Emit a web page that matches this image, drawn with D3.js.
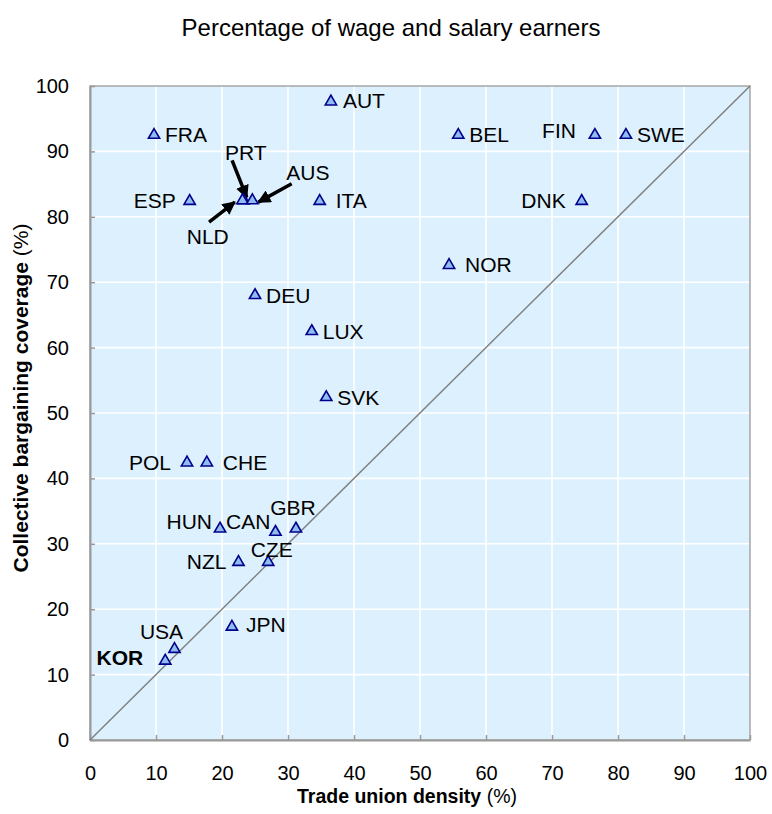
<!DOCTYPE html>
<html><head><meta charset="utf-8">
<script src="https://cdn.jsdelivr.net/npm/d3@7"></script>
<style>body{margin:0;background:#fff;font-family:"Liberation Sans",Arial,sans-serif;}</style>
</head><body>
<svg id="chart" width="772" height="814" font-family="Liberation Sans, Arial, sans-serif"></svg>
<script>
const countries = ["FRA","AUT","BEL","FIN","SWE","ESP","PRT","NLD","AUS","ITA","DNK","NOR","DEU","LUX","SVK","POL","CHE","HUN","CAN","GBR","NZL","CZE","JPN","USA","KOR"];
const unionDensity = [9.7,36.5,55.8,76.5,81.2,15.1,23.3,23.1,24.6,34.8,74.5,54.4,25.0,33.6,35.8,14.7,17.7,19.7,28.1,31.2,22.5,27.0,21.5,12.8,11.4];
const bargainingCoverage = [92.5,97.6,92.5,92.5,92.5,82.4,82.5,82.5,82.5,82.4,82.4,72.6,68.0,62.5,52.4,42.4,42.4,32.3,31.8,32.3,27.2,27.2,17.3,13.9,12.1];
const xTicks = [0,10,20,30,40,50,60,70,80,90,100];
const yTicks = [0,10,20,30,40,50,60,70,80,90,100];

// label placement (layout only): dx, dy in px, anchor
const labelLayout = {
  FRA:[11,0,"start"], AUT:[12,-1,"start"], BEL:[11,0,"start"], FIN:[-19,-4,"end"], SWE:[11,0,"start"],
  ESP:[-14,0,"end"], ITA:[16,0,"start"], DNK:[-16,0,"end"], NOR:[16,-1,"start"], DEU:[11,0,"start"],
  LUX:[11,0,"start"], SVK:[11,0,"start"], POL:[-16,0,"end"], CHE:[16,0,"start"], HUN:[-8,-7,"end"],
  CAN:[-5,-10,"end"], GBR:[-3,-21,"middle"], NZL:[-12,0,"end"], CZE:[3.5,-12,"middle"], JPN:[14,-2.5,"start"],
  USA:[-13,-17,"middle"], KOR:[-22,-3,"end"]
};
const arrowLabels = {
  PRT:{lx:2,ly:-48,x1:-11.7,y1:-40,x2:3,y2:-3},
  AUS:{lx:55.5,ly:-28.3,x1:39.3,y1:-16.7,x2:6,y2:1.7},
  NLD:{lx:-34.7,ly:36,x1:-33.4,y1:21.7,x2:-7.7,y2:1.7}
};

const svg = d3.select("#chart");
const m = {left:90, top:86, right:22, bottom:74};
const W = 772 - m.left - m.right, H = 814 - m.top - m.bottom;
const x = d3.scaleLinear().domain([0,100]).range([m.left, m.left+W]);
const y = d3.scaleLinear().domain([0,100]).range([m.top+H, m.top]);

svg.append("rect").attr("x",x(0)).attr("y",y(100)).attr("width",x(100)-x(0)).attr("height",y(0)-y(100))
  .attr("fill","#ddf0fe");
// grid
svg.append("g").selectAll("line").data(xTicks.slice(1,-1)).join("line")
  .attr("x1",d=>x(d)).attr("x2",d=>x(d)).attr("y1",y(0)).attr("y2",y(100)).attr("stroke","#fff").attr("stroke-width",1.6);
svg.append("g").selectAll("line").data(yTicks.slice(1,-1)).join("line")
  .attr("y1",d=>y(d)).attr("y2",d=>y(d)).attr("x1",x(0)).attr("x2",x(100)).attr("stroke","#fff").attr("stroke-width",1.6);
// border
svg.append("rect").attr("x",x(0)).attr("y",y(100)).attr("width",x(100)-x(0)).attr("height",y(0)-y(100))
  .attr("fill","none").attr("stroke","#a6a6a6").attr("stroke-width",1.5);

// axes
const xAxis = svg.append("g").attr("transform",`translate(0,${y(0)})`)
  .call(d3.axisBottom(x).tickValues(xTicks).tickSizeInner(-5).tickSizeOuter(0).tickPadding(26));
const yAxis = svg.append("g").attr("transform",`translate(${x(0)},0)`)
  .call(d3.axisLeft(y).tickValues(yTicks).tickSizeInner(-5).tickSizeOuter(0).tickPadding(21));
[xAxis,yAxis].forEach(a=>{
  a.select(".domain").attr("stroke","#999").attr("stroke-width",2);
  a.selectAll(".tick line").attr("stroke","#999").attr("stroke-width",1.5);
  a.selectAll("text").attr("font-size",20).attr("fill","#000").attr("font-family","Liberation Sans, Arial, sans-serif");
});

// diagonal
svg.append("line").attr("x1",x(0)).attr("y1",y(0)).attr("x2",x(100)).attr("y2",y(100))
  .attr("stroke","#808080").attr("stroke-width",1.5);

const data = countries.map((c,i)=>({c, xv:unionDensity[i], yv:bargainingCoverage[i]}));

// arrows
svg.append("defs").append("marker").attr("id","ah").attr("viewBox","0 0 10 10").attr("refX",9).attr("refY",5)
  .attr("markerWidth",3.8).attr("markerHeight",3.8).attr("orient","auto")
  .append("path").attr("d","M0,0L10,5L0,10z").attr("fill","#000");

data.filter(d=>arrowLabels[d.c]).forEach(d=>{
  const a = arrowLabels[d.c], px=x(d.xv), py=y(d.yv);
  svg.append("line").attr("x1",px+a.x1).attr("y1",py+a.y1).attr("x2",px+a.x2).attr("y2",py+a.y2)
    .attr("stroke","#000").attr("stroke-width",3.5).attr("marker-end","url(#ah)");
  svg.append("text").attr("x",px+a.lx).attr("y",py+a.ly).attr("text-anchor","middle").attr("dy","0.35em")
    .attr("font-size",21).text(d.c);
});

// points
const tri = d3.symbol().type(d3.symbolTriangle).size(55);
svg.append("g").selectAll("path").data(data).join("path")
  .attr("transform",d=>`translate(${x(d.xv)},${y(d.yv)})`).attr("d",tri)
  .attr("fill","#8fbdf0").attr("stroke","#00008b").attr("stroke-width",1.6);

// labels
svg.append("g").selectAll("text").data(data.filter(d=>labelLayout[d.c])).join("text")
  .attr("x",d=>x(d.xv)+labelLayout[d.c][0]).attr("y",d=>y(d.yv)+labelLayout[d.c][1])
  .attr("dy","0.35em")
  .attr("text-anchor",d=>labelLayout[d.c][2])
  .attr("font-size",21).attr("font-weight",d=>d.c==="KOR"?"bold":"normal").text(d=>d.c);

// title
svg.append("text").attr("x",391).attr("y",36).attr("text-anchor","middle").attr("font-size",24).text("Percentage of wage and salary earners");
// x title
const xt = svg.append("text").attr("x",x(50)-13).attr("y",803).attr("text-anchor","middle").attr("font-size",19.5);
xt.append("tspan").attr("font-weight","bold").text("Trade union density");
xt.append("tspan").text(" (%)");
const yt = svg.append("text").attr("transform",`translate(28,398) rotate(-90)`).attr("text-anchor","middle").attr("font-size",21);
yt.append("tspan").attr("font-weight","bold").text("Collective bargaining coverage");
yt.append("tspan").text(" (%)");
</script>
</body></html>
